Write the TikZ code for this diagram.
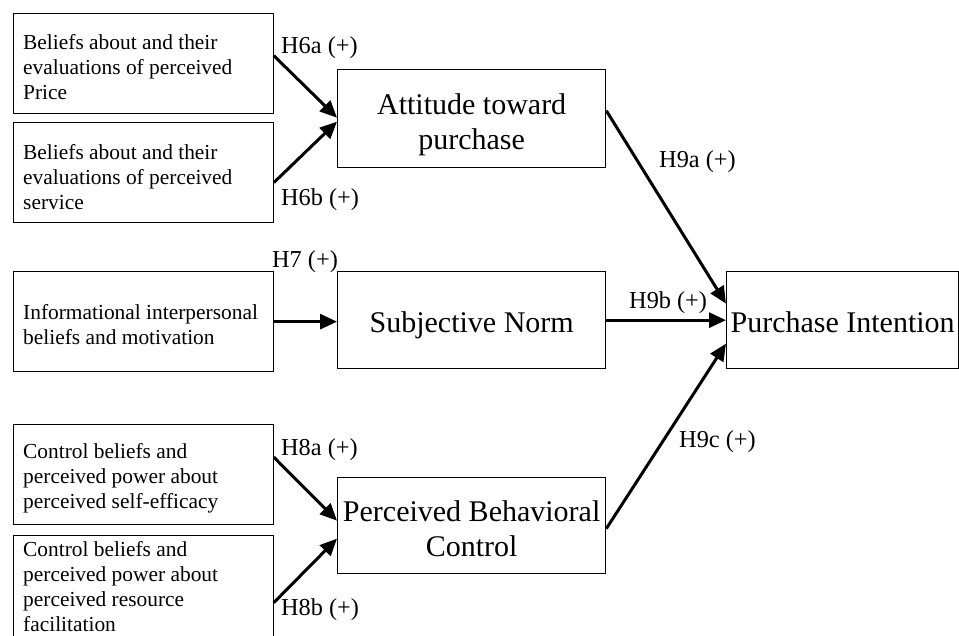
\documentclass[tikz,border=0pt]{standalone}
\usepackage{fontspec}
\setmainfont{Liberation Serif}
\usetikzlibrary{arrows.meta}
\begin{document}
\begin{tikzpicture}[x=1pt,y=-1pt,
  srcbox/.style={draw, line width=1.3pt, anchor=north west, minimum width=260pt,
    minimum height=100pt, inner sep=0pt},
  srctext/.style={anchor=west, inner sep=0pt, align=left,
    font=\fontsize{21.4}{25}\selectfont},
  bigbox/.style={draw, line width=1.3pt, anchor=north west, minimum width=268pt, inner sep=0pt},
  bigtext/.style={inner sep=0pt, align=center, font=\fontsize{30}{35}\selectfont},
  hyp/.style={anchor=west, inner sep=0pt, font=\fontsize{24.3}{28}\selectfont},
  arr/.style={line width=3pt, -{Triangle[length=17pt,width=15pt]}}
]
\useasboundingbox (0,0) rectangle (959,635);
\clip (0,0) rectangle (959,635);

% source boxes
\node[srcbox] (b1) at (12.5,13) {};
\node[srcbox] (b2) at (12.5,122) {};
\node[srcbox] (b3) at (12.5,271) {};
\node[srcbox] (b5) at (12.5,424) {};
\node[srcbox, minimum height=102pt] (b6) at (12.5,535) {};
\node[srctext] (t1) at ([xshift=10.5pt,yshift=-3pt]b1.west) {Beliefs about and their\\evaluations of perceived\\Price};
\node[srctext] (t2) at ([xshift=10.5pt,yshift=-4pt]b2.west) {Beliefs about and their\\evaluations of perceived\\service};
\node[srctext] (t3) at ([xshift=10.5pt,yshift=-3pt]b3.west) {Informational interpersonal\\beliefs and motivation};
\node[srctext] (t5) at ([xshift=10.5pt,yshift=-4pt]b5.west) {Control beliefs and\\perceived power about\\perceived self-efficacy};
\node[srctext] (t6) at ([xshift=10.5pt,yshift=0pt]b6.west) {Control beliefs and\\perceived power about\\perceived resource\\facilitation};

% construct boxes
\node[bigbox, minimum height=98pt] (att) at (337,69) {};
\node[bigbox, minimum height=97pt] (sn) at (337,271) {};
\node[bigbox, minimum height=96pt] (pbc) at (337,477) {};
\node[bigbox, minimum height=97pt, minimum width=232pt] (pi) at (726,271) {};
\node[bigtext] (tatt) at ([yshift=-6pt]att.center) {Attitude toward\\purchase};
\node[bigtext] (tsn) at ([yshift=-5pt]sn.center) {Subjective Norm};
\node[bigtext] (tpbc) at ([yshift=-3.5pt]pbc.center) {Perceived Behavioral\\Control};
\node[bigtext] (tpi) at ([yshift=-2pt]pi.center) {Purchase Intention};

% arrows
\draw[arr] ([yshift=8pt]b1.east) -- ([yshift=1pt]att.west);
\draw[arr] ([yshift=-10pt]b2.east) -- ([yshift=-3pt]att.west);
\draw[arr] (b3.east) -- (b3.east -| sn.west);
\draw[arr] ([yshift=17.5pt]b5.east) -- ([yshift=5pt]pbc.west);
\draw[arr] ([yshift=-16pt]b6.east) -- ([yshift=-13pt]pbc.west);
\draw[arr] ([yshift=8pt]att.east) -- ([yshift=16.5pt]pi.west);
\draw[arr] (sn.east) -- (pi.west);
\draw[arr] ([yshift=-3pt]pbc.east) -- ([yshift=-23.5pt]pi.west);

% labels
\node[hyp] (l6a) at (281,48) {H6a (+)};
\node[hyp] (l6b) at (281,200) {H6b (+)};
\node[hyp] (l7) at (272,262) {H7 (+)};
\node[hyp] (l8a) at (281,450) {H8a (+)};
\node[hyp] (l8b) at (281,610) {H8b (+)};
\node[hyp] (l9a) at (659,162) {H9a (+)};
\node[hyp] (l9b) at (629,303) {H9b (+)};
\node[hyp] (l9c) at (679,442) {H9c (+)};
\end{tikzpicture}
\end{document}
